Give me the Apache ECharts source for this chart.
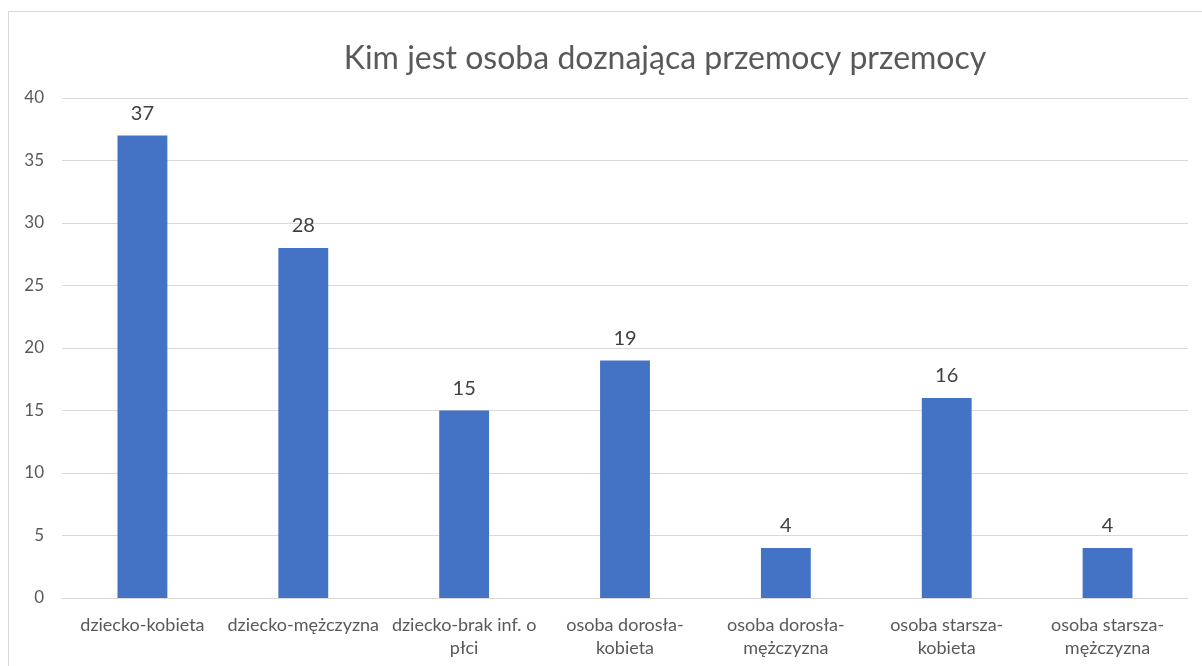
<!DOCTYPE html>
<html>
<head>
<meta charset="utf-8">
<script src="https://cdn.jsdelivr.net/npm/echarts@6/dist/echarts.min.js"></script>
<style>
  html, body { margin: 0; padding: 0; background: #fff; }
  #frame { position: absolute; left: 8px; top: 11px; width: 1300px; height: 800px;
           border-left: 1px solid #d9d9d9; border-top: 1px solid #d9d9d9; }
  #chart { position: absolute; left: 0; top: 0; width: 1202px; height: 666px; }
</style>
</head>
<body>
<div id="frame"></div>
<div id="chart"></div>
<script>
// category tick labels (wrapped like the original)
const categories = [
  'dziecko-kobieta',
  'dziecko-mężczyzna',
  'dziecko-brak inf. o\npłci',
  'osoba dorosła-\nkobieta',
  'osoba dorosła-\nmężczyzna',
  'osoba starsza-\nkobieta',
  'osoba starsza-\nmężczyzna'
];
const values = [37, 28, 15, 19, 4, 16, 4];
const titleText = 'Kim jest osoba doznająca przemocy przemocy';

const chart = echarts.init(document.getElementById('chart'));

const font = 'Lato, "Noto Sans", sans-serif';

chart.setOption({
  backgroundColor: 'transparent',
  animation: false,
  title: {
    text: titleText,
    left: 660,
    textAlign: 'center',
    top: 38,
    textStyle: { color: '#595959', fontSize: 32, fontWeight: 'normal', fontFamily: font }
  },
  grid: { left: 62, right: 14, top: 98, bottom: 68 },
  xAxis: {
    type: 'category',
    data: categories,
    axisLine: { lineStyle: { color: '#d9d9d9', width: 1 } },
    axisTick: { show: false },
    axisLabel: {
      color: '#595959',
      fontSize: 18,
      fontFamily: font,
      margin: 16,
      lineHeight: 23,
      interval: 0
    }
  },
  yAxis: {
    type: 'value',
    min: 0,
    max: 40,
    interval: 5,
    axisLine: { show: false },
    axisTick: { show: false },
    axisLabel: { color: '#595959', fontSize: 17, fontFamily: font, margin: 18 },
    splitLine: { lineStyle: { color: '#d9d9d9', width: 1 } }
  },
  series: [{
    type: 'bar',
    data: values,
    barWidth: '31%',
    itemStyle: { color: '#4472C4' },
    label: {
      show: true,
      position: 'top',
      distance: 12,
      color: '#404040',
      fontSize: 20,
      fontFamily: font
    }
  }]
});
</script>
</body>
</html>
